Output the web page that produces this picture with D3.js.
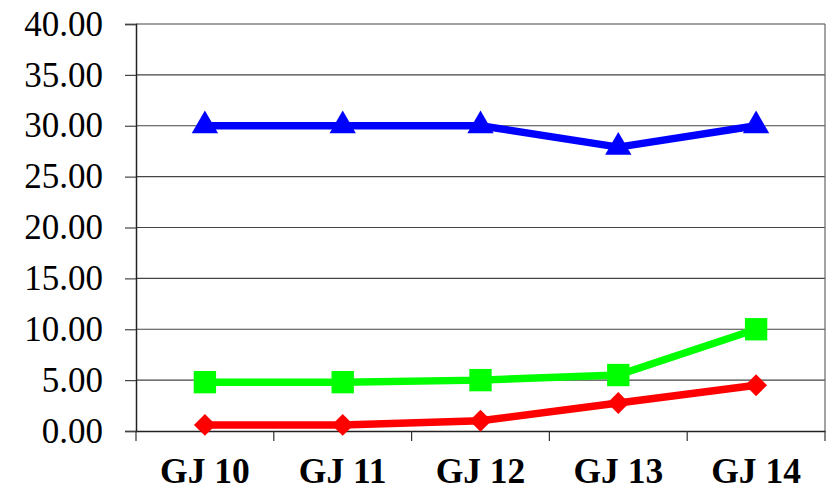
<!DOCTYPE html>
<html>
<head>
<meta charset="utf-8">
<script src="https://cdn.jsdelivr.net/npm/d3@7"></script>
<style>
  html, body { margin: 0; padding: 0; background: #fff; }
  svg { display: block; }
</style>
</head>
<body>
<svg id="chart" width="827" height="491"></svg>
<script>
const categories = ["GJ 10", "GJ 11", "GJ 12", "GJ 13", "GJ 14"];
const blueValues = [30.0, 30.0, 30.0, 27.9, 30.0];
const greenValues = [4.8, 4.8, 5.0, 5.5, 10.0];
const redValues = [0.6, 0.6, 1.0, 2.75, 4.5];
const yTicks = [0, 5, 10, 15, 20, 25, 30, 35, 40];

(function () {
const svg = d3.select("#chart");
const pLeft = 136, pRight = 825, pTop = 24, pBottom = 431;

const x = d3.scaleBand().domain(categories).range([pLeft, pRight]).padding(0);
const y = d3.scaleLinear().domain([0, 40]).range([pBottom, pTop]);

// gridlines
svg.append("g").selectAll("line").data(yTicks.filter(d => d > 0)).join("line")
  .attr("x1", pLeft).attr("x2", pRight)
  .attr("y1", d => y(d)).attr("y2", d => y(d))
  .attr("stroke", "#444").attr("stroke-width", 1.2);

// right border
svg.append("line").attr("x1", pRight).attr("x2", pRight).attr("y1", pTop).attr("y2", pBottom)
  .attr("stroke", "#666").attr("stroke-width", 1.2);

// y axis
const yAxis = d3.axisLeft(y).tickValues(yTicks).tickSize(11).tickPadding(22)
  .tickFormat(d3.format(".2f"));
const yg = svg.append("g").attr("transform", `translate(${pLeft},0)`).call(yAxis);
yg.select(".domain").attr("stroke", "#222").attr("stroke-width", 1.5);
yg.selectAll(".tick line").attr("stroke", "#444").attr("stroke-width", 1.2);
yg.selectAll(".tick text")
  .attr("font-family", "'Liberation Serif', 'Times New Roman', serif")
  .attr("font-size", 35).attr("fill", "#000");

// x axis
const xg = svg.append("g").attr("transform", `translate(0,${pBottom})`)
  .call(d3.axisBottom(x).tickSize(0).tickPadding(0).tickFormat(""));
xg.select(".domain").attr("stroke", "#222").attr("stroke-width", 1.5);
xg.selectAll(".tick").remove();
const bounds = categories.map(c => x(c)).concat([x(categories[categories.length - 1]) + x.bandwidth()]);
xg.selectAll("line.b").data(bounds).join("line").attr("class", "b")
  .attr("x1", d => d).attr("x2", d => d).attr("y1", 0).attr("y2", 10)
  .attr("stroke", "#333").attr("stroke-width", 1.2);
xg.selectAll("text.c").data(categories).join("text").attr("class", "c")
  .attr("x", d => x(d) + x.bandwidth() / 2).attr("y", 52)
  .attr("text-anchor", "middle")
  .attr("font-family", "'Liberation Serif', 'Times New Roman', serif")
  .attr("font-weight", "bold").attr("font-size", 35.5).attr("fill", "#000")
  .text(d => d);

const cx = d => x(d) + x.bandwidth() / 2;
const line = d3.line().x(d => cx(d.c)).y(d => y(d.v));

function series(values, color, symbol, size, rotate) {
  const data = categories.map((c, i) => ({ c, v: values[i] }));
  svg.append("path").datum(data).attr("d", line)
    .attr("fill", "none").attr("stroke", color).attr("stroke-width", 7.5)
    .attr("stroke-linejoin", "round");
  svg.append("g").selectAll("path").data(data).join("path")
    .attr("d", d3.symbol().type(symbol).size(size))
    .attr("transform", d => `translate(${cx(d.c)},${y(d.v)}) rotate(${rotate})`)
    .attr("fill", color);
}

series(redValues, "#ff0000", d3.symbolSquare, 240, 45);
series(greenValues, "#00ff00", d3.symbolSquare, 500, 0);
series(blueValues, "#0000ff", d3.symbolTriangle, 300, 0);
})();
</script>
</body>
</html>
